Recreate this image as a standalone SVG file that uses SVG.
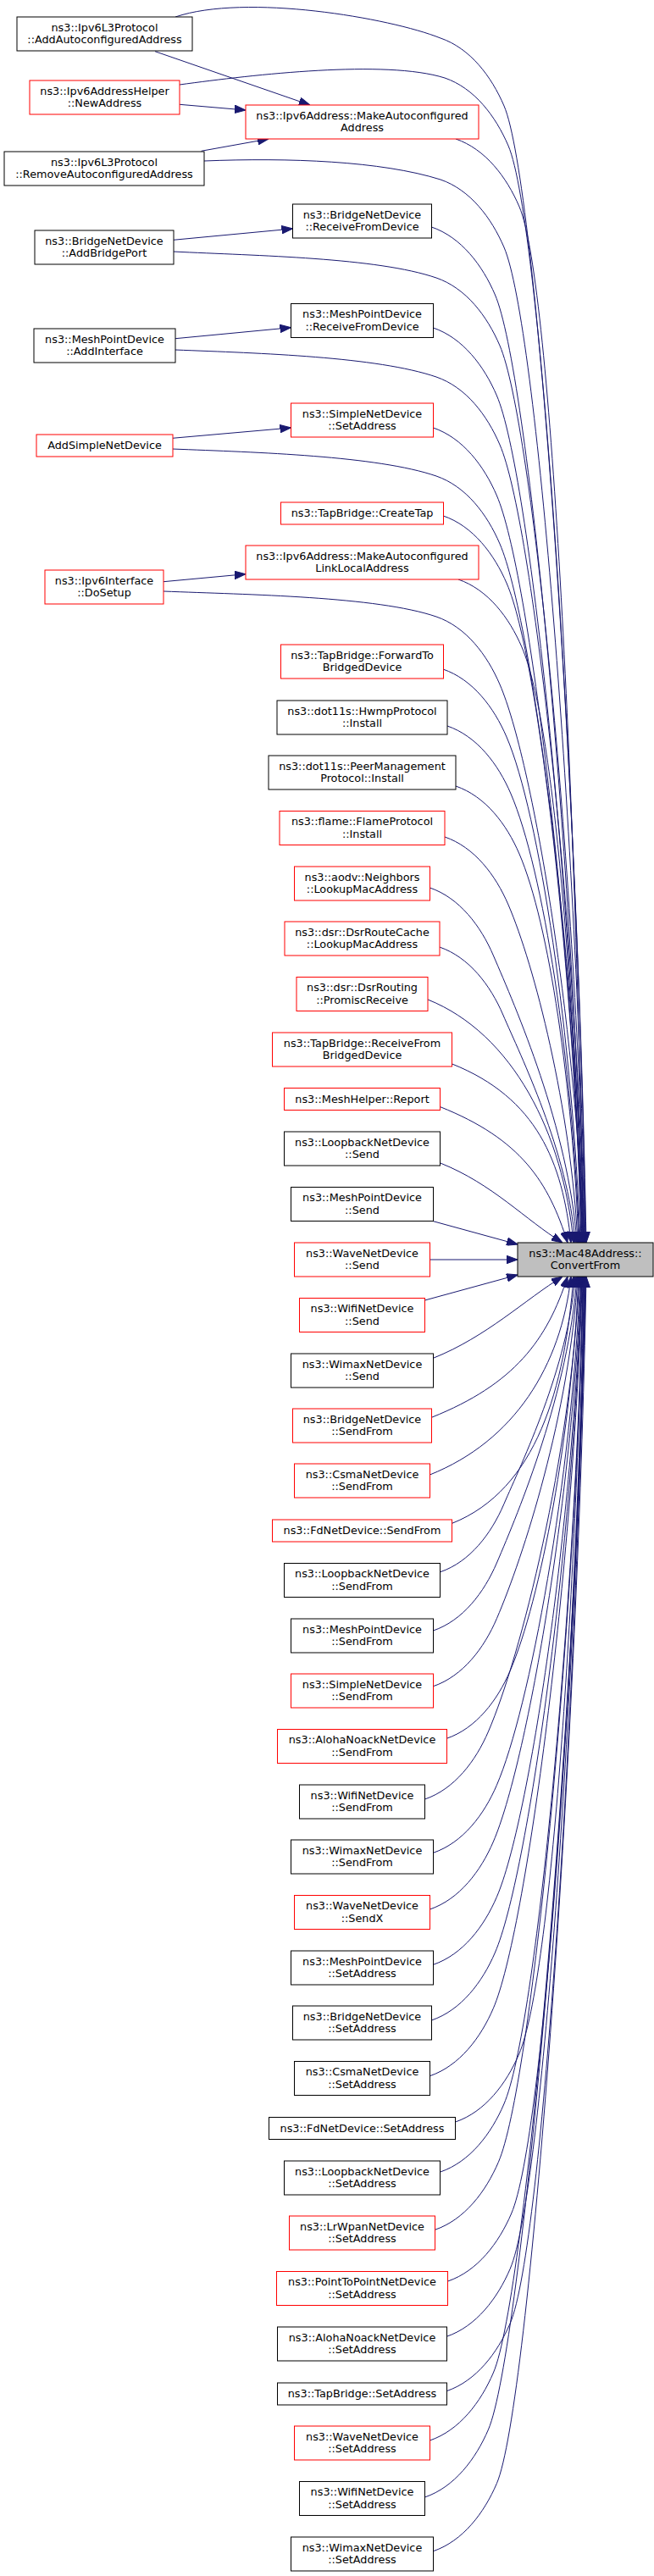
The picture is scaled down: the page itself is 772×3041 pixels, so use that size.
<svg xmlns="http://www.w3.org/2000/svg" width="772" height="3041" viewBox="0 0 772 3041">
<style>
.nd rect{fill:#fff;stroke:#000;stroke-width:1}
.nd.r rect{stroke:#f00}
.nd.t rect{fill:#bfbfbf;stroke:#000}
text{font-family:"DejaVu Sans","Liberation Sans",sans-serif;font-size:12.8px;fill:#000;text-anchor:middle}
.e path{fill:none;stroke:#191970;stroke-width:1;marker-end:url(#ah)}
</style>
<defs>
<marker id="ah" markerUnits="userSpaceOnUse" viewBox="0 0 13 9.5" refX="13" refY="4.75" markerWidth="13" markerHeight="9.5" orient="auto">
<path d="M0,0 L13,4.75 L0,9.5 z" fill="#191970" stroke="#191970" stroke-width="1"/>
</marker>
</defs>
<rect width="772" height="3041" fill="#fff"/>
<g id="edges" class="e">
<path d="M183,60.7 L366,124"/>
<path d="M212,123.3 L290,130"/>
<path d="M237.6,178.3 L317,164"/>
<path d="M204.5,283.3 L345.5,270"/>
<path d="M207,399.7 L343.5,386.7"/>
<path d="M203.5,517.3 L343.5,505"/>
<path d="M193,686.7 L290,677.7"/>
<path d="M207,20 C290,-8 460,21 520,45 C555,57 580,90 595,125 C633.7,215 682.3,930.2 692,1467"/>
<path d="M212,100 C300,88 455,70 525,92 C560,104 585,137 600,172 C638.7,262 682.3,949 691.5,1467"/>
<path d="M241,190 C341,186 450,190 520,212 C555,224 580,257 595,292 C633.7,382 681.4,997 691,1467"/>
<path d="M204.5,297 C304.5,302 445,304 515,328 C550,340 575,373 590,408 C628.7,498 680.5,1043.4 690.5,1467"/>
<path d="M207,413 C307,417 445,421 515,445 C550,457 575,490 590,525 C628.7,615 680,1090.2 690,1467"/>
<path d="M203.5,530 C303.5,534 445,538 515,562 C550,574 575,607 590,642 C628.7,732 679.5,1137 689.5,1467"/>
<path d="M193,698 C293,702 445,704 515,728 C550,740 575,773 590,808 C628.7,898 679.1,1203.4 689,1467"/>
<path d="M538,164 C573,176 598,209 613,244 C651.7,334 681,977.8 688.5,1467"/>
<path d="M509.4,268 C544.4,280 569.4,313 584.4,348 C623.1,438 677.6,1019.4 688,1467"/>
<path d="M511.4,387 C546.4,399 571.4,432 586.4,467 C625.1,557 677.4,1067 687.5,1467"/>
<path d="M511.4,505 C546.4,517 571.4,550 586.4,585 C625.1,675 676.9,1114.2 687,1467"/>
<path d="M523.3,609 C558.3,621 583.3,654 598.3,689 C637,779 677.7,1155.8 686.5,1467"/>
<path d="M541,684 C576,696 601,729 616,764 C654.7,854 679,1185.8 686,1467"/>
<path d="M523,790 C558,802 583,835 598,870 C636.7,960 676.3,1228.2 685,1467"/>
<path d="M528,857 C563,869 588,902 603,937 C641.7,1027 675.9,1255 684,1467"/>
<path d="M538,928 C573,940 598,973 613,1008 C648.5,1090.6 676,1283.4 683,1467"/>
<path d="M525,988 C560,1000 585,1033 600,1068 C630.9,1139.8 673.8,1307.4 682,1467"/>
<path d="M507.4,1048 C542.4,1060 567.4,1093 582.4,1128 C608.6,1189 671.1,1331.4 681,1467"/>
<path d="M518.8,1118 C553.8,1130 578.8,1163 593.8,1198 C614.6,1246.4 670.5,1359.4 679,1467"/>
<path d="M505,1180 C605,1220 665,1337.8 677,1467"/>
<path d="M533.7,1256 C633.7,1296 664.2,1372 674,1467"/>
<path d="M519.8,1306.7 C614.8,1344.7 647.5,1395 670,1467"/>
<path d="M519.8,1373 C581.8,1397.8 620,1440 664,1467"/>
<path d="M511.4,1441.7 L611,1469"/>
<path d="M507.4,1487 L611,1487"/>
<path d="M501.5,1535 L611,1505"/>
<path d="M511.4,1603.3 C574.6,1578 620,1534 664,1507"/>
<path d="M509.4,1673.3 C607.4,1634.1 645.9,1581.8 670,1507"/>
<path d="M507.4,1741 C607.4,1701 662.3,1612.3 674,1507"/>
<path d="M533.7,1798.3 C633.7,1758.3 667,1638.1 677,1507"/>
<path d="M519.8,1855.7 C554.8,1843.7 579.8,1810.7 594.8,1775.7 C615.6,1727.3 670.6,1614.5 679,1507"/>
<path d="M511.4,1925 C546.4,1913 571.4,1880 586.4,1845 C612.5,1784.2 671.5,1642.2 681,1507"/>
<path d="M511.4,1990.7 C546.4,1978.7 571.4,1945.7 586.4,1910.7 C617.7,1838 672.4,1668.5 682,1507"/>
<path d="M527.2,2052.3 C562.2,2040.3 587.2,2007.3 602.2,1972.3 C638.2,1888.5 674.9,1693.1 683,1507"/>
<path d="M501.5,2124 C536.5,2112 561.5,2079 576.5,2044 C615.2,1954 673.3,1721.8 684,1507"/>
<path d="M511.4,2187.3 C546.4,2175.3 571.4,2142.3 586.4,2107.3 C625.1,2017.3 675.1,1747.1 685,1507"/>
<path d="M507.4,2254 C542.4,2242 567.4,2209 582.4,2174 C621.1,2084 675.6,1773.8 686,1507"/>
<path d="M511.4,2319.3 C546.4,2307.3 571.4,2274.3 586.4,2239.3 C625.1,2149.3 676.5,1799.9 686.5,1507"/>
<path d="M509.4,2385 C544.4,2373 569.4,2340 584.4,2305 C623.1,2215 676.7,1826.2 687,1507"/>
<path d="M507.4,2450.7 C542.4,2438.7 567.4,2405.7 582.4,2370.7 C621.1,2280.7 677,1852.5 687.5,1507"/>
<path d="M537.6,2505 C572.6,2493 597.6,2460 612.6,2425 C651.3,2335 680.5,1874.2 688,1507"/>
<path d="M519.8,2564 C554.8,2552 579.8,2519 594.8,2484 C633.5,2394 679.1,1897.8 688.5,1507"/>
<path d="M513.4,2632.3 C548.4,2620.3 573.4,2587.3 588.4,2552.3 C627.1,2462.3 678.9,1925.1 689,1507"/>
<path d="M528.7,2693 C563.7,2681 588.7,2648 603.7,2613 C642.4,2523 680.9,1949.4 689.5,1507"/>
<path d="M527.2,2758.3 C562.2,2746.3 587.2,2713.3 602.2,2678.3 C640.9,2588.3 681.2,1975.5 690,1507"/>
<path d="M527.2,2822.7 C562.2,2810.7 587.2,2777.7 602.2,2742.7 C640.9,2652.7 681.7,2001.3 690.5,1507"/>
<path d="M507.4,2881 C542.4,2869 567.4,2836 582.4,2801 C621.1,2711 680.1,2024.6 691,1507"/>
<path d="M501.5,2948 C536.5,2936 561.5,2903 576.5,2868 C615.2,2778 680,2051.4 691.5,1507"/>
<path d="M511.4,3011.7 C546.4,2999.7 571.4,2966.7 586.4,2931.7 C625.1,2841.7 681.4,2076.9 692,1507"/>
</g>
<g id="n_target" class="nd t"><rect x="611" y="1467" width="160" height="40"/><text><tspan x="691" y="1483.7">ns3::Mac48Address::</tspan><tspan x="691" y="1498.2">ConvertFrom</tspan></text></g>
<g id="n_A" class="nd"><rect x="20" y="20" width="207" height="40"/><text><tspan x="123.5" y="36.7">ns3::Ipv6L3Protocol</tspan><tspan x="123.5" y="51.2">::AddAutoconfiguredAddress</tspan></text></g>
<g id="n_B" class="nd r"><rect x="35" y="95" width="177" height="40"/><text><tspan x="123.5" y="111.7">ns3::Ipv6AddressHelper</tspan><tspan x="123.5" y="126.2">::NewAddress</tspan></text></g>
<g id="n_D" class="nd"><rect x="5" y="179" width="236" height="40"/><text><tspan x="123" y="195.7">ns3::Ipv6L3Protocol</tspan><tspan x="123" y="210.2">::RemoveAutoconfiguredAddress</tspan></text></g>
<g id="n_F" class="nd"><rect x="41" y="272" width="164" height="40"/><text><tspan x="123" y="288.7">ns3::BridgeNetDevice</tspan><tspan x="123" y="303.2">::AddBridgePort</tspan></text></g>
<g id="n_H" class="nd"><rect x="40" y="388" width="167" height="40"/><text><tspan x="123.5" y="404.7">ns3::MeshPointDevice</tspan><tspan x="123.5" y="419.2">::AddInterface</tspan></text></g>
<g id="n_J" class="nd r"><rect x="43" y="513" width="161" height="26"/><text x="123.5" y="530.3">AddSimpleNetDevice</text></g>
<g id="n_M" class="nd r"><rect x="53" y="673" width="140" height="40"/><text><tspan x="123" y="689.7">ns3::Ipv6Interface</tspan><tspan x="123" y="704.2">::DoSetup</tspan></text></g>
<g id="n_C" class="nd r"><rect x="290" y="124" width="275" height="40"/><text><tspan x="427.5" y="140.7">ns3::Ipv6Address::MakeAutoconfigured</tspan><tspan x="427.5" y="155.2">Address</tspan></text></g>
<g id="n_E" class="nd"><rect x="345.5" y="241" width="164" height="40"/><text><tspan x="427.5" y="257.7">ns3::BridgeNetDevice</tspan><tspan x="427.5" y="272.2">::ReceiveFromDevice</tspan></text></g>
<g id="n_G" class="nd"><rect x="343.5" y="358.5" width="168" height="40"/><text><tspan x="427.5" y="375.2">ns3::MeshPointDevice</tspan><tspan x="427.5" y="389.7">::ReceiveFromDevice</tspan></text></g>
<g id="n_I" class="nd r"><rect x="343.5" y="476" width="168" height="40"/><text><tspan x="427.5" y="492.7">ns3::SimpleNetDevice</tspan><tspan x="427.5" y="507.2">::SetAddress</tspan></text></g>
<g id="n_K" class="nd r"><rect x="331.5" y="593" width="192" height="26"/><text x="427.5" y="610.3">ns3::TapBridge::CreateTap</text></g>
<g id="n_L" class="nd r"><rect x="290" y="644" width="275" height="40"/><text><tspan x="427.5" y="660.7">ns3::Ipv6Address::MakeAutoconfigured</tspan><tspan x="427.5" y="675.2">LinkLocalAddress</tspan></text></g>
<g id="n_N" class="nd r"><rect x="331.5" y="761" width="192" height="40"/><text><tspan x="427.5" y="777.7">ns3::TapBridge::ForwardTo</tspan><tspan x="427.5" y="792.2">BridgedDevice</tspan></text></g>
<g id="n_O" class="nd"><rect x="327" y="827" width="201" height="40"/><text><tspan x="427.5" y="843.7">ns3::dot11s::HwmpProtocol</tspan><tspan x="427.5" y="858.2">::Install</tspan></text></g>
<g id="n_P" class="nd"><rect x="317" y="892" width="221" height="40"/><text><tspan x="427.5" y="908.7">ns3::dot11s::PeerManagement</tspan><tspan x="427.5" y="923.2">Protocol::Install</tspan></text></g>
<g id="n_Q" class="nd r"><rect x="330" y="957.5" width="195" height="40"/><text><tspan x="427.5" y="974.2">ns3::flame::FlameProtocol</tspan><tspan x="427.5" y="988.7">::Install</tspan></text></g>
<g id="n_R" class="nd r"><rect x="347.5" y="1023" width="160" height="40"/><text><tspan x="427.5" y="1039.7">ns3::aodv::Neighbors</tspan><tspan x="427.5" y="1054.2">::LookupMacAddress</tspan></text></g>
<g id="n_S" class="nd r"><rect x="336" y="1088" width="183" height="40"/><text><tspan x="427.5" y="1104.7">ns3::dsr::DsrRouteCache</tspan><tspan x="427.5" y="1119.2">::LookupMacAddress</tspan></text></g>
<g id="n_T" class="nd r"><rect x="350" y="1153.5" width="155" height="40"/><text><tspan x="427.5" y="1170.2">ns3::dsr::DsrRouting</tspan><tspan x="427.5" y="1184.7">::PromiscReceive</tspan></text></g>
<g id="n_U" class="nd r"><rect x="321.5" y="1219" width="212" height="40"/><text><tspan x="427.5" y="1235.7">ns3::TapBridge::ReceiveFrom</tspan><tspan x="427.5" y="1250.2">BridgedDevice</tspan></text></g>
<g id="n_V" class="nd r"><rect x="335.5" y="1284.5" width="184" height="26"/><text x="427.5" y="1301.8">ns3::MeshHelper::Report</text></g>
<g id="n_W" class="nd"><rect x="335.5" y="1336" width="184" height="40"/><text><tspan x="427.5" y="1352.7">ns3::LoopbackNetDevice</tspan><tspan x="427.5" y="1367.2">::Send</tspan></text></g>
<g id="n_X" class="nd"><rect x="343.5" y="1401.5" width="168" height="40"/><text><tspan x="427.5" y="1418.2">ns3::MeshPointDevice</tspan><tspan x="427.5" y="1432.7">::Send</tspan></text></g>
<g id="n_Y" class="nd r"><rect x="347.5" y="1467" width="160" height="40"/><text><tspan x="427.5" y="1483.7">ns3::WaveNetDevice</tspan><tspan x="427.5" y="1498.2">::Send</tspan></text></g>
<g id="n_Z1" class="nd r"><rect x="353.5" y="1532.5" width="148" height="40"/><text><tspan x="427.5" y="1549.2">ns3::WifiNetDevice</tspan><tspan x="427.5" y="1563.7">::Send</tspan></text></g>
<g id="n_Z2" class="nd"><rect x="343.5" y="1598" width="168" height="40"/><text><tspan x="427.5" y="1614.7">ns3::WimaxNetDevice</tspan><tspan x="427.5" y="1629.2">::Send</tspan></text></g>
<g id="n_Z3" class="nd r"><rect x="345.5" y="1663" width="164" height="40"/><text><tspan x="427.5" y="1679.7">ns3::BridgeNetDevice</tspan><tspan x="427.5" y="1694.2">::SendFrom</tspan></text></g>
<g id="n_Z4" class="nd r"><rect x="347.5" y="1728" width="160" height="40"/><text><tspan x="427.5" y="1744.7">ns3::CsmaNetDevice</tspan><tspan x="427.5" y="1759.2">::SendFrom</tspan></text></g>
<g id="n_Z5" class="nd r"><rect x="321.5" y="1794" width="212" height="26"/><text x="427.5" y="1811.3">ns3::FdNetDevice::SendFrom</text></g>
<g id="n_Z6" class="nd"><rect x="335.5" y="1845.5" width="184" height="40"/><text><tspan x="427.5" y="1862.2">ns3::LoopbackNetDevice</tspan><tspan x="427.5" y="1876.7">::SendFrom</tspan></text></g>
<g id="n_msf" class="nd"><rect x="343.5" y="1911" width="168" height="40"/><text><tspan x="427.5" y="1927.7">ns3::MeshPointDevice</tspan><tspan x="427.5" y="1942.2">::SendFrom</tspan></text></g>
<g id="n_ssf" class="nd r"><rect x="343.5" y="1976" width="168" height="40"/><text><tspan x="427.5" y="1992.7">ns3::SimpleNetDevice</tspan><tspan x="427.5" y="2007.2">::SendFrom</tspan></text></g>
<g id="n_asf" class="nd r"><rect x="327.5" y="2041.5" width="200" height="40"/><text><tspan x="427.5" y="2058.2">ns3::AlohaNoackNetDevice</tspan><tspan x="427.5" y="2072.7">::SendFrom</tspan></text></g>
<g id="n_wsf" class="nd"><rect x="353.5" y="2107" width="148" height="40"/><text><tspan x="427.5" y="2123.7">ns3::WifiNetDevice</tspan><tspan x="427.5" y="2138.2">::SendFrom</tspan></text></g>
<g id="n_xsf" class="nd"><rect x="343.5" y="2172" width="168" height="40"/><text><tspan x="427.5" y="2188.7">ns3::WimaxNetDevice</tspan><tspan x="427.5" y="2203.2">::SendFrom</tspan></text></g>
<g id="n_vsx" class="nd r"><rect x="347.5" y="2237.5" width="160" height="40"/><text><tspan x="427.5" y="2254.2">ns3::WaveNetDevice</tspan><tspan x="427.5" y="2268.7">::SendX</tspan></text></g>
<g id="n_msa" class="nd"><rect x="343.5" y="2303" width="168" height="40"/><text><tspan x="427.5" y="2319.7">ns3::MeshPointDevice</tspan><tspan x="427.5" y="2334.2">::SetAddress</tspan></text></g>
<g id="n_bsa" class="nd"><rect x="345.5" y="2368" width="164" height="40"/><text><tspan x="427.5" y="2384.7">ns3::BridgeNetDevice</tspan><tspan x="427.5" y="2399.2">::SetAddress</tspan></text></g>
<g id="n_csa" class="nd"><rect x="347.5" y="2433.5" width="160" height="40"/><text><tspan x="427.5" y="2450.2">ns3::CsmaNetDevice</tspan><tspan x="427.5" y="2464.7">::SetAddress</tspan></text></g>
<g id="n_fsa" class="nd"><rect x="317.5" y="2499.5" width="220" height="26"/><text x="427.5" y="2516.8">ns3::FdNetDevice::SetAddress</text></g>
<g id="n_lsa" class="nd"><rect x="335.5" y="2551" width="184" height="40"/><text><tspan x="427.5" y="2567.7">ns3::LoopbackNetDevice</tspan><tspan x="427.5" y="2582.2">::SetAddress</tspan></text></g>
<g id="n_lrsa" class="nd r"><rect x="341.5" y="2616" width="172" height="40"/><text><tspan x="427.5" y="2632.7">ns3::LrWpanNetDevice</tspan><tspan x="427.5" y="2647.2">::SetAddress</tspan></text></g>
<g id="n_psa" class="nd r"><rect x="326.5" y="2681.5" width="202" height="40"/><text><tspan x="427.5" y="2698.2">ns3::PointToPointNetDevice</tspan><tspan x="427.5" y="2712.7">::SetAddress</tspan></text></g>
<g id="n_asa" class="nd"><rect x="327.5" y="2747" width="200" height="40"/><text><tspan x="427.5" y="2763.7">ns3::AlohaNoackNetDevice</tspan><tspan x="427.5" y="2778.2">::SetAddress</tspan></text></g>
<g id="n_tsa" class="nd"><rect x="327.5" y="2813" width="200" height="26"/><text x="427.5" y="2830.3">ns3::TapBridge::SetAddress</text></g>
<g id="n_vsa" class="nd r"><rect x="347.5" y="2864" width="160" height="40"/><text><tspan x="427.5" y="2880.7">ns3::WaveNetDevice</tspan><tspan x="427.5" y="2895.2">::SetAddress</tspan></text></g>
<g id="n_wsa" class="nd"><rect x="353.5" y="2929.5" width="148" height="40"/><text><tspan x="427.5" y="2946.2">ns3::WifiNetDevice</tspan><tspan x="427.5" y="2960.7">::SetAddress</tspan></text></g>
<g id="n_xsa" class="nd"><rect x="343.5" y="2995" width="168" height="40"/><text><tspan x="427.5" y="3011.7">ns3::WimaxNetDevice</tspan><tspan x="427.5" y="3026.2">::SetAddress</tspan></text></g>
</svg>
